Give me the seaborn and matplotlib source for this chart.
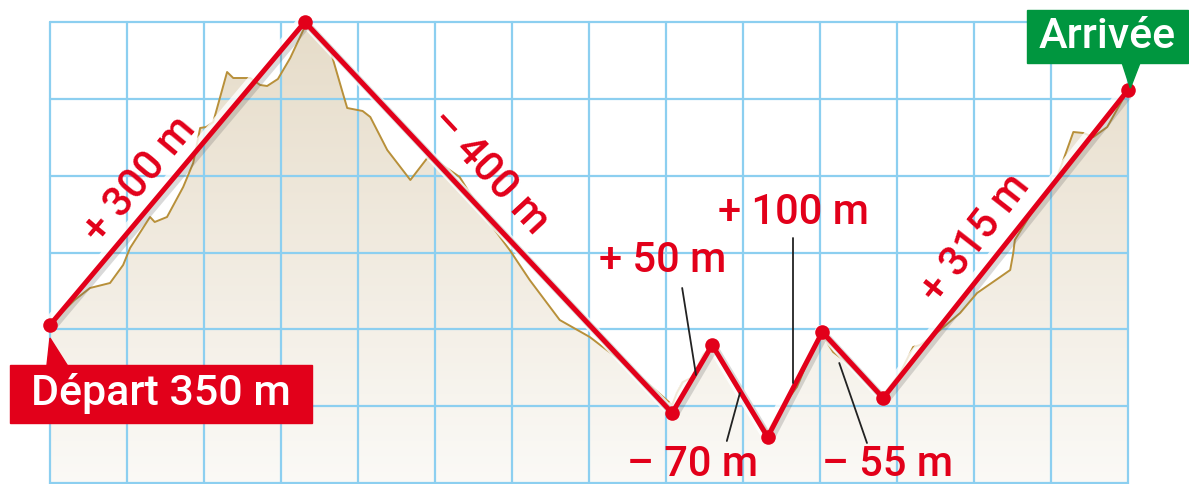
import numpy as np
import seaborn as sns
import matplotlib.pyplot as plt
import matplotlib.patheffects as pe
from matplotlib.colors import LinearSegmentedColormap
from matplotlib.patches import Rectangle, Polygon

## Data: distance in grid squares, altitude in m
route_x = [0, 3.31, 8.08, 8.60, 9.32, 10.03, 10.82, 14.0]
route_alt = [350, 653, 262, 330, 238, 343, 277, 585]

terrain_x = [0.00, 0.16, 0.32, 0.52, 0.78, 0.95, 1.04, 1.30, 1.36, 1.52, 1.73, 1.86,
             1.95, 2.03, 2.12, 2.21, 2.30, 2.38, 2.60, 2.73, 2.82, 2.96, 3.12, 3.29,
             3.31, 3.44, 3.64, 3.81, 3.86, 4.06, 4.16, 4.38, 4.68, 4.90, 5.06, 5.32,
             5.45, 5.68, 5.97, 6.23, 6.62, 7.01, 7.40, 7.79, 8.08, 8.14, 8.22, 8.35,
             8.48, 8.60, 8.96, 9.32, 9.48, 9.70, 9.74, 9.87, 10.03, 10.17, 10.39, 10.65,
             10.82, 11.04, 11.21, 11.30, 11.56, 11.82, 12.04, 12.34, 12.47, 12.51, 12.53,
             12.73, 13.08, 13.16, 13.29, 13.42, 13.55, 13.73, 14.0]
terrain_alt = [350, 363, 375, 387, 392, 410, 427, 458, 453, 458, 488, 512,
               547, 548, 553, 578, 603, 597, 597, 590, 589, 596, 617, 645,
               650, 642, 625, 580, 567, 564, 558, 525, 495, 517, 512, 498,
               482, 455, 425, 395, 355, 338, 315, 290, 270, 282, 293, 298,
               320, 330, 284, 243, 265, 288, 295, 320, 340, 323, 310, 290,
               280, 302, 328, 330, 345, 362, 382, 398, 405, 422, 435,
               460, 498, 515, 543, 542, 538, 548, 585]

seg_labels = ["+ 300 m", "– 400 m", "+ 50 m", "– 70 m", "+ 100 m", "– 55 m", "+ 315 m"]
start_label = "Départ 350 m"
end_label = "Arrivée"

RED = "#e2001a"
GREEN = "#00963f"
BLUE = "#8ccff0"

sns.set_theme(style="white")
plt.rcParams['font.family'] = ['Roboto', 'DejaVu Sans']

fig = plt.figure(figsize=(11.89, 4.84), dpi=100)
ax = fig.add_axes([0, 0, 1, 1])
ax.set_xlim(-0.649, 14.792)
ax.set_ylim(191, 675)
ax.axis('off')

top, bottom = 653, 192

# terrain fill with vertical gradient
poly = ax.fill_between(terrain_x, terrain_alt, bottom - 5, facecolor='none', edgecolor='none')
cmap = LinearSegmentedColormap.from_list("sand", ["#fbfaf7", "#f1ebe0", "#e6dcc9"])
grad = np.linspace(0, 1, 256).reshape(-1, 1)
im = ax.imshow(grad, extent=[0, 14, bottom - 5, top], origin='lower', cmap=cmap,
               aspect='auto', zorder=1)
im.set_clip_path(poly.get_paths()[0], transform=ax.transData)

# grid
for k in range(15):
    ax.plot([k, k], [bottom - 5, top], color=BLUE, lw=1.6, zorder=2)
for y in np.linspace(top, bottom, 7):
    ax.plot([0, 14], [y, y], color=BLUE, lw=1.6, zorder=2)

# terrain line
sns.lineplot(x=terrain_x, y=terrain_alt, sort=False, color="#b8903a", lw=1.4, ax=ax, zorder=3)

# route
sns.lineplot(x=route_x, y=route_alt, sort=False, color=RED, lw=3.6, ax=ax, zorder=5)
ax.lines[-1].set_path_effects([
    pe.Stroke(offset=(-1.5, 1.5), linewidth=7, foreground='white', alpha=0.8),
    pe.SimpleLineShadow(offset=(2, -2), shadow_color='#555555', alpha=0.22, linewidth=5),
    pe.Normal()])
sns.scatterplot(x=route_x, y=route_alt, color=RED, s=110, edgecolor=RED, linewidth=0,
                ax=ax, zorder=6)

font = dict(color=RED, fontsize=30, fontweight=500, ha='center', va='center', zorder=7)
ax.text(1.17, 495, seg_labels[0], rotation=50, **font)
ax.text(5.70, 503, seg_labels[1], rotation=-47, **font)
ax.text(7.95, 414, seg_labels[2], **font)
ax.text(8.34, 210, seg_labels[3], **font)
ax.text(9.65, 462, seg_labels[4], **font)
ax.text(10.88, 210, seg_labels[5], **font)
ax.text(12.02, 437, seg_labels[6], rotation=52, **font)

# leader lines
for (x0, y0), (x1, y1) in [((8.21, 387), (8.39, 300)), ((9.65, 437), (9.65, 292)),
                           ((8.96, 282), (8.79, 234)), ((10.25, 312), (10.61, 232))]:
    ax.plot([x0, x1], [y0, y1], color="#222222", lw=1.3, zorder=6)

# start / end tags
ax.add_patch(Rectangle((-0.52, 252), 3.92, 58, color=RED, zorder=8))
ax.add_patch(Polygon([(0, 337), (-0.04, 309), (0.23, 309)], color=RED, zorder=8))
ax.text(1.44, 281, start_label, color='white', fontsize=31, fontweight=500,
        ha='center', va='center', zorder=9)

ax.add_patch(Rectangle((12.69, 612), 2.09, 53, color=GREEN, zorder=8))
ax.add_patch(Polygon([(14.03, 587), (13.92, 613), (14.16, 613)], color=GREEN, zorder=8))
ax.text(13.73, 639, end_label, color='white', fontsize=31, fontweight=500,
        ha='center', va='center', zorder=9)

plt.savefig("out.png", dpi=100)
